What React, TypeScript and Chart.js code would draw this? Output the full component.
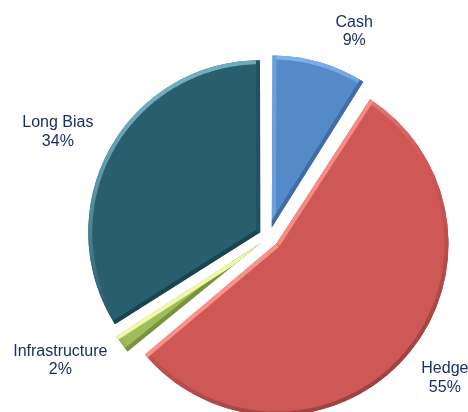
import React, { useEffect, useRef } from "react";
import { Chart, registerables } from "chart.js";

Chart.register(...registerables);

const categories = ["Cash", "Hedge", "Infrastructure", "Long Bias"];
const values = [9, 55, 2, 34];
const valueLabels = ["9%", "55%", "2%", "34%"];

const fillColors = ["#558ac9", "#cd5855", "#a0bd5c", "#285e6e"];
const lightColors = ["#88baf4", "#fb938d", "#f3f8a6", "#72b0bf"];
const darkColors = ["#3e689e", "#9c4441", "#76923f", "#1a4450"];

const RADIUS = 172;
const EXPLODE = 10;
const RIM = 4;
const LABEL_GAP = 22;
const LABEL_FONT = '16px "Liberation Sans", Arial, sans-serif';
const LABEL_COLOR = "#1a2f68";
const LINE_H = 18.5;
const DEG = Math.PI / 180;
const LABEL_NUDGE = [6.3 * DEG, -2 * DEG, 2.2 * DEG, -0.6 * DEG];

function hexToRgb(h: string): number[] {
  const v = parseInt(h.slice(1), 16);
  return [(v >> 16) & 255, (v >> 8) & 255, v & 255];
}
function mix(a: string, b: string, t: number): string {
  const A = hexToRgb(a);
  const B = hexToRgb(b);
  const c = A.map((x, i) => Math.round(x + (B[i] - x) * t));
  return `rgb(${c[0]},${c[1]},${c[2]})`;
}

const LIGHT = (() => {
  const x = -0.45, y = -0.89;
  const n = Math.hypot(x, y);
  return [x / n, y / n];
})();

const piePlugin = {
  id: "pieBevelLabels",
  beforeDatasetsDraw(chart: any) {
    const meta = chart.getDatasetMeta(0);
    meta.data.forEach((el: any) => {
      const circ = el.endAngle - el.startAngle;
      const fix = 1 - Math.sin(Math.min(Math.PI, circ));
      el.outerRadius = RADIUS - EXPLODE * fix;
    });
  },
  afterDatasetsDraw(chart: any) {
    const ctx = chart.ctx as CanvasRenderingContext2D;
    const meta = chart.getDatasetMeta(0);
    meta.data.forEach((el: any, i: number) => {
      const s0 = el.startAngle, e0 = el.endAngle;
      const alpha = e0 - s0;
      const fix = 1 - Math.sin(Math.min(Math.PI, alpha));
      const ro = EXPLODE * fix;
      const beta = Math.max(0.001, alpha * RADIUS - ro / Math.PI) / RADIUS;
      const ao = (alpha - beta) / 2;
      const s = s0 + ao, e = e0 - ao;
      const mid = (s0 + e0) / 2;
      const shade = (nx: number, ny: number) => {
        const t = nx * LIGHT[0] + ny * LIGHT[1];
        return t >= 0
          ? mix(fillColors[i], lightColors[i], t)
          : mix(fillColors[i], darkColors[i], -t);
      };
      ctx.save();
      ctx.translate(el.x + Math.cos(mid) * EXPLODE, el.y + Math.sin(mid) * EXPLODE);
      ctx.beginPath();
      ctx.moveTo(0, 0);
      ctx.arc(0, 0, RADIUS, s, e);
      ctx.closePath();
      ctx.clip();
      ctx.lineWidth = RIM * 2;
      ctx.lineCap = "butt";
      const steps = Math.max(3, Math.ceil((e - s) / 0.015));
      for (let k = 0; k < steps; k++) {
        const a0 = s + ((e - s) * k) / steps;
        const a1 = s + ((e - s) * (k + 1)) / steps;
        const am = (a0 + a1) / 2;
        ctx.strokeStyle = shade(Math.cos(am), Math.sin(am));
        ctx.beginPath();
        ctx.arc(0, 0, RADIUS, a0, Math.min(e, a1 + 0.004));
        ctx.stroke();
      }
      const edge = (a: number, nx: number, ny: number) => {
        ctx.strokeStyle = shade(nx, ny);
        ctx.beginPath();
        ctx.moveTo(0, 0);
        ctx.lineTo(Math.cos(a) * RADIUS, Math.sin(a) * RADIUS);
        ctx.stroke();
      };
      edge(s, Math.sin(s), -Math.cos(s));
      edge(e, -Math.sin(e), Math.cos(e));
      ctx.restore();
    });
  },
  afterDraw(chart: any) {
    const ctx = chart.ctx as CanvasRenderingContext2D;
    const meta = chart.getDatasetMeta(0);
    ctx.save();
    ctx.font = LABEL_FONT;
    ctx.fillStyle = LABEL_COLOR;
    ctx.textAlign = "center";
    ctx.textBaseline = "middle";
    meta.data.forEach((el: any, i: number) => {
      const mid = (el.startAngle + el.endAngle) / 2 + LABEL_NUDGE[i];
      const ux = Math.cos(mid), uy = Math.sin(mid);
      const lines = [categories[i], valueLabels[i]];
      const w = Math.max(...lines.map((l) => ctx.measureText(l).width));
      const h = LINE_H * lines.length;
      const D = RADIUS + EXPLODE + LABEL_GAP;
      const cx = el.x + ux * D + (ux * w) / 2;
      const cy = el.y + uy * D + (uy * h) / 2;
      lines.forEach((l, j) =>
        ctx.fillText(l, cx, cy + (j - (lines.length - 1) / 2) * LINE_H)
      );
    });
    ctx.restore();
  },
};

export default function App() {
  const ref = useRef<HTMLCanvasElement | null>(null);
  useEffect(() => {
    if (!ref.current) return;
    const chart = new Chart(ref.current, {
      type: "pie",
      data: {
        labels: categories,
        datasets: [
          {
            data: values,
            backgroundColor: fillColors,
            borderWidth: 0,
            offset: EXPLODE * 4,
            radius: RADIUS,
          } as any,
        ],
      },
      options: {
        responsive: false,
        animation: false,
        events: [],
        radius: RADIUS,
        layout: { padding: { left: 70, top: 62, right: 0, bottom: 0 } },
        plugins: {
          legend: { display: false },
          tooltip: { enabled: false },
        },
      } as any,
      plugins: [piePlugin],
    });
    return () => chart.destroy();
  }, []);
  return (
    <div style={{ position: "absolute", left: 0, top: 0, width: 468, height: 412, background: "#fff" }}>
      <canvas ref={ref} width={468} height={412} />
    </div>
  );
}
